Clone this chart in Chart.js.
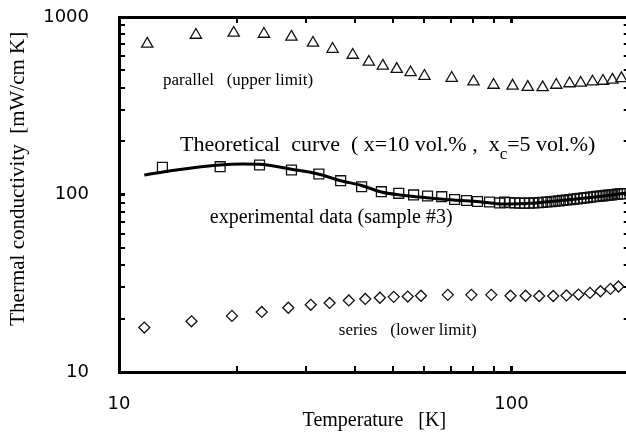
<!DOCTYPE html>
<html>
<head>
<meta charset="utf-8">
<script src="https://cdn.jsdelivr.net/npm/chart.js@4/dist/chart.umd.min.js"></script>
<style>
  html, body { margin: 0; background: #fff; overflow: hidden; }
  canvas { display: block; }
</style>
</head>
<body>
<!-- a bit wider than the window: the right axis of the original sits just past the cut edge -->
<canvas id="chart" width="638" height="442"></canvas>
<script>
// Thermal conductivity vs temperature, log-log

// parallel (upper limit) - triangles
const PAR_T = [11.8, 15.7, 19.6, 23.4, 27.5, 31.2, 35, 39.4, 43.3, 47, 51, 55.3, 60, 70.4, 80, 90, 100.6, 110, 120, 130, 140.5, 150, 160.8, 171, 180.7, 190.5];
const PAR_K = [705, 792, 813, 802, 772, 714, 660, 611, 558, 530, 509, 487, 465, 453, 432, 414, 409, 403, 401, 414, 422, 425, 432, 436, 442, 451];

// experimental data (sample #3) - squares
const EXP_T = [12.9, 18.1, 22.8, 27.5, 32.3, 36.7, 41.5, 46.6, 51.6, 56.3, 61.1, 66.4, 71.6, 76.8, 81.9, 87.9, 93.2,
  96, 99, 102, 105, 108, 111, 114, 117, 120, 123, 126, 129, 132, 135, 138, 141, 144, 147, 150, 153, 156, 159,
  162, 165, 168, 171, 174, 177, 180, 183, 186, 189, 192];
const EXP_K = [142.3, 143.4, 146.6, 137.4, 130.5, 119.6, 110.6, 103.7, 101.6, 99.4, 98.1, 97.2, 93.7, 92.5, 91.3, 90.7, 89.6,
  90.5, 90, 89.6, 89.4, 89.3, 89.4, 89.6, 89.9, 90.3, 90.7, 91.1, 91.6, 92.1, 92.6, 93.1, 93.6, 94.1, 94.6, 95.1, 95.6, 96.1, 96.6,
  97.1, 97.5, 97.9, 98.3, 98.8, 99.2, 99.6, 100, 100.4, 100.8, 101.2];

// series (lower limit) - diamonds
const SER_T = [11.6, 15.3, 19.4, 23.1, 27, 30.8, 34.4, 38.5, 42.4, 46.2, 50.1, 54.4, 58.8, 68.8, 79, 88.8, 99.4, 108.6, 117.6, 127.7, 138, 148.1, 158.4, 168.5, 178.6, 187.2];
const SER_K = [17.8, 19.3, 20.7, 21.8, 23, 23.9, 24.5, 25.3, 25.8, 26.2, 26.5, 26.6, 26.9, 27.2, 27.2, 27.2, 26.9, 26.9, 26.8, 26.8, 27, 27.3, 27.9, 28.5, 29.4, 30.3];

// theoretical curve
const FIT_T = [11.6, 14, 18, 20.7, 22.8, 27.5, 32.3, 36.7, 41.5, 46.6, 52, 60.7, 71, 83, 95, 113, 132.5, 161, 194, 200];
const FIT_K = [128.8, 137.4, 146.6, 148.5, 148, 138.7, 130, 119.6, 112.4, 103.3, 99.4, 95.9, 93.1, 91.1, 88.4, 89.2, 92.3, 96.4, 101.6, 102.5];

const X_TICKS = [10, 20, 30, 40, 50, 60, 70, 80, 90, 100, 200];
const Y_TICKS = [10, 20, 30, 40, 50, 60, 70, 80, 90, 100, 200, 300, 400, 500, 600, 700, 800, 900, 1000];
const DECADES = [10, 100, 1000];

// text labels inside the plot, anchored at (T, k) baseline-left
const NOTES = [
  { parts: [['parallel   (upper limit)', 0]], t: 12.94, k: 414, size: 17 },
  { parts: [['Theoretical  curve  ( x=10 vol.% ,  x', 0], ['c', 1], ['=5 vol.%)', 0]], t: 14.3, k: 175.8, size: 22 },
  { parts: [['experimental data (sample #3)', 0]], t: 17.04, k: 69.1, size: 20 },
  { parts: [['series   (lower limit)', 0]], t: 36.3, k: 16.2, size: 17 },
];

const SERIF = '"Liberation Serif", "Times New Roman", serif';
const SANS = '"DejaVu Sans", sans-serif';

function pts(xs, ys) {
  return xs.map((x, i) => ({ x, y: ys[i] }));
}

function tickObjs(list) {
  return list.map(v => ({ value: v, major: DECADES.includes(v) }));
}

// fix the box size and drop the label overflow padding chart.js adds
function fixBox(dim, size) {
  return s => {
    s[dim] = size;
    s.paddingTop = s.paddingBottom = s.paddingLeft = s.paddingRight = 0;
  };
}

const tickGrid = {
  drawOnChartArea: false,
  tickLength: -6,
  color: '#000',
  lineWidth: c => (c.tick && c.tick.major ? 3 : 2),
};

function marker(style, radius) {
  return {
    pointStyle: style,
    pointRadius: radius,
    pointBorderColor: '#111',
    pointBackgroundColor: 'rgba(0,0,0,0)',
    pointBorderWidth: 1.3,
    showLine: false,
  };
}

const notesPlugin = {
  id: 'notes',
  afterDatasetsDraw(chart) {
    const { ctx, scales: { x, y } } = chart;
    ctx.save();
    ctx.fillStyle = '#000';
    ctx.textAlign = 'left';
    ctx.textBaseline = 'alphabetic';
    NOTES.forEach(n => {
      let px = x.getPixelForValue(n.t);
      const py = y.getPixelForValue(n.k);
      n.parts.forEach(([txt, sub]) => {
        const size = sub ? Math.round(n.size * 0.75) : n.size;
        ctx.font = `${size}px ${SERIF}`;
        ctx.fillText(txt, px, py + (sub ? size * 0.45 : 0));
        px += ctx.measureText(txt).width;
      });
    });
    ctx.restore();
  },
};

new Chart(document.getElementById('chart'), {
  type: 'scatter',
  data: {
    datasets: [
      { type: 'line', data: pts(FIT_T, FIT_K), borderColor: '#000', borderWidth: 3, pointRadius: 0,
        cubicInterpolationMode: 'monotone', fill: false },
      { data: pts(PAR_T, PAR_K), ...marker('triangle', 6.5) },
      { data: pts(EXP_T, EXP_K), ...marker('rect', 7) },
      { data: pts(SER_T, SER_K), ...marker('rectRot', 5.5) },
    ],
  },
  options: {
    responsive: false,
    animation: false,
    layout: { padding: 0 },
    plugins: { legend: { display: false }, tooltip: { enabled: false } },
    scales: {
      x: {
        type: 'logarithmic', position: 'bottom', min: 10, max: 200,
        afterBuildTicks: s => { s.ticks = tickObjs(X_TICKS); },
        afterFit: fixBox('height', 70),
        border: { width: 3, color: '#000' },
        grid: tickGrid,
        ticks: {
          autoSkip: false, maxRotation: 0, padding: 28, color: '#000',
          font: { family: SANS, size: 18 },
          callback: v => (DECADES.includes(v) ? String(v) : ''),
        },
        title: { display: true, text: 'Temperature   [K]', color: '#000',
          font: { family: SERIF, size: 20 }, padding: { top: 0, bottom: 9 } },
      },
      x2: {
        type: 'logarithmic', position: 'top', min: 10, max: 200,
        afterBuildTicks: s => { s.ticks = tickObjs(X_TICKS); },
        afterFit: fixBox('height', 17),
        border: { width: 3, color: '#000' },
        grid: tickGrid,
        ticks: { display: false },
      },
      y: {
        type: 'logarithmic', position: 'left', min: 10, max: 1000,
        afterBuildTicks: s => { s.ticks = tickObjs(Y_TICKS); },
        afterFit: fixBox('width', 119),
        border: { width: 3, color: '#000' },
        grid: tickGrid,
        ticks: {
          autoSkip: false, padding: 36, color: '#000',
          font: { family: SANS, size: 18 },
          callback: v => (DECADES.includes(v) ? String(v) : ''),
        },
        title: { display: true, text: '      Thermal conductivity  [mW/cm K]', color: '#000',
          font: { family: SERIF, size: 21 }, padding: { top: 6, bottom: 0 } },
      },
      y2: {
        type: 'logarithmic', position: 'right', min: 10, max: 1000,
        afterBuildTicks: s => { s.ticks = tickObjs(Y_TICKS); },
        afterFit: fixBox('width', 0),
        border: { display: false },
        grid: tickGrid,
        ticks: { display: false },
      },
    },
  },
  plugins: [notesPlugin],
});
</script>
</body>
</html>
